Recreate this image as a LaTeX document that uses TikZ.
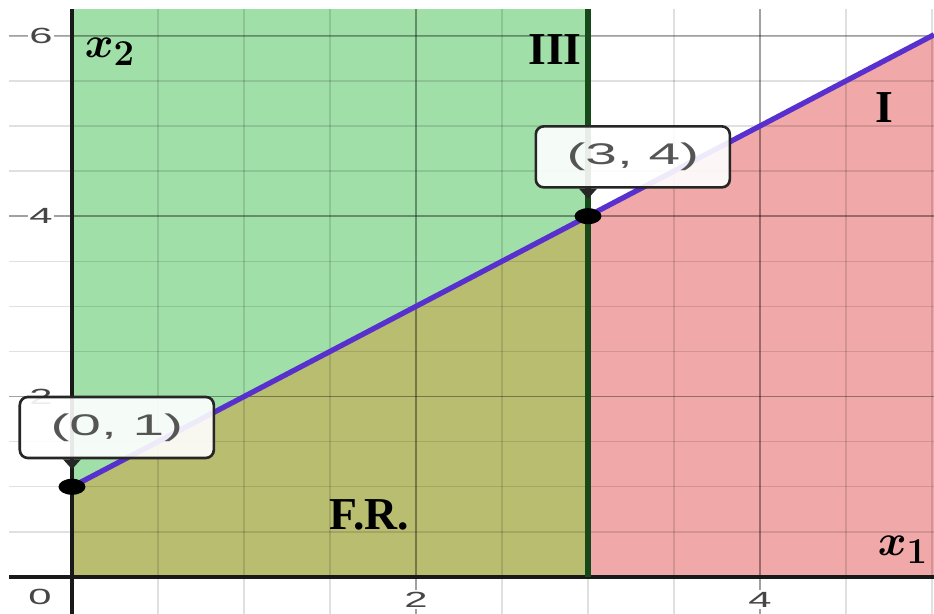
\documentclass[tikz,border=0pt]{standalone}
\usepackage{amsmath}
\usepackage{fontspec}
\setmainfont{Liberation Serif}
\newfontfamily\desmosfont[FakeStretch=1.9]{Liberation Sans}
\usetikzlibrary{calc}
\definecolor{regiongreen}{RGB}{160,224,168}
\definecolor{regionred}{RGB}{241,168,168}
\definecolor{regionolive}{RGB}{185,189,112}
\definecolor{linepurple}{RGB}{88,48,205}
\definecolor{linegreen}{RGB}{22,72,26}
\definecolor{ticktext}{RGB}{70,70,70}
\definecolor{boxtext}{RGB}{85,85,85}
\tikzset{
  ticklabel/.style={font=\desmosfont\fontsize{12.5}{14}\selectfont, text=ticktext, fill=white, inner sep=1pt},
  ptlabel/.style={draw=black!85, line width=1.5pt, fill=white, fill opacity=0.9, text opacity=1,
    rounded corners=0.16cm, minimum width=3.88cm, minimum height=1.22cm, inner sep=0pt,
    anchor=south west, font=\desmosfont\fontsize{17}{20}\selectfont, text=boxtext},
  regionlabel/.style={font=\bfseries\fontsize{26}{30}\selectfont},
  axislabel/.style={font=\fontsize{28}{32}\selectfont},
  minorgrid/.style={black, opacity=0.12, line width=0.8pt},
  majorgrid/.style={black, opacity=0.28, line width=1pt}
}

\begin{document}
\begin{tikzpicture}[x=3.44cm, y=1.804cm]
    \useasboundingbox[fill=white] (-0.4186,-0.4102) rectangle (5.0116,6.3969);
    % Shaded regions
    \fill[regiongreen] (0,0) rectangle (3,6.3);
    \fill[regionred] (3,0) -- (5.0116,0) -- (5.0116,6.0116) -- (3,4) -- cycle;
    \fill[regionolive] (0,0) -- (3,0) -- (3,4) -- (0,1) -- cycle;
    % Grid
    \foreach \x in {0.5,1,...,5} \draw[minorgrid] (\x,-0.4102) -- (\x,6.3);
    \foreach \y in {0.5,1,...,6} \draw[minorgrid] (-0.366,\y) -- (5.0116,\y);
    \foreach \x in {2,4} \draw[majorgrid] (\x,-0.4102) -- (\x,6.3);
    \foreach \y in {2,4,6} \draw[majorgrid] (-0.366,\y) -- (5.0116,\y);
    % Tick labels
    \node[ticklabel] (ty6) at (-0.18,6) {6};
    \node[ticklabel] (ty4) at (-0.18,4) {4};
    \node[ticklabel] (ty2) at (-0.18,2) {2};
    \node[ticklabel] (tx0) at (-0.186,-0.222) {0};
    \node[ticklabel] (tx2) at (2,-0.25) {2};
    \node[ticklabel] (tx4) at (4,-0.25) {4};
    % Axes
    \draw[black!90, line width=2.2pt] (0,-0.4102) -- (0,6.3);
    \draw[black!90, line width=1.8pt] (-0.366,0) -- (5.0116,0);
    % Constraint lines
    \draw[linegreen, line width=3.5pt] (3,0) -- (3,6.3);
    \draw[linepurple, line width=3pt] (0,1) -- (5.0116,6.0116);
    % Corner points
    \coordinate (P01) at (0,1);
    \coordinate (P34) at (3,4);
    \foreach \p/\t in {P01/{(0, 1)}, P34/{(3, 4)}} {
        \fill (\p) ellipse [x radius=0.27cm, y radius=0.16cm];
        \node[ptlabel] (lbl\p) at ([shift={(-1.07cm,0.55cm)}]\p) {\t};
        \fill[black!85] ($(\p|-lbl\p.south)+(-0.18cm,0)$) -- ($(\p|-lbl\p.south)+(0.18cm,0)$)
            -- ($(\p|-lbl\p.south)+(0,-0.2cm)$) -- cycle;
    }
    % Region labels
    \node[regionlabel] (lblIII) at (2.808,5.842) {III};
    \node[regionlabel] (lblI) at (4.721,5.205) {I};
    \node[regionlabel] (lblFR) at (1.727,0.687) {F.R.};
    \node[axislabel] (lblx2) at (0.221,5.82) {$\boldsymbol{x}_{\boldsymbol{2}}$};
    \node[axislabel] (lblx1) at (4.831,0.30) {$\boldsymbol{x}_{\boldsymbol{1}}$};
\end{tikzpicture}
\end{document}
